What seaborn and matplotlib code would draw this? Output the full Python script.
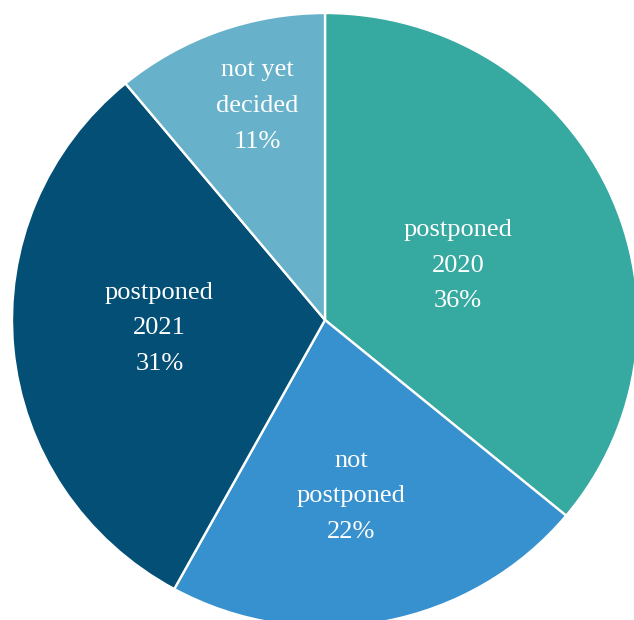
import numpy as np
import matplotlib
matplotlib.use("Agg")
import matplotlib.pyplot as plt
import seaborn as sns

sns.set_theme(style="white")
plt.rcParams['font.family'] = ['Liberation Serif', 'DejaVu Serif']

# Data
categories = ['postponed\n2020', 'not\npostponed', 'postponed\n2021', 'not yet\ndecided']
shares = [36, 22, 31, 11]
colors = ['#36a9a1', '#3891cf', '#034f75', '#67b1ca']
label_dist = [0.46, 0.58, 0.53, 0.73]

fig = plt.figure(figsize=(6.34, 6.20), dpi=100)
ax = fig.add_axes([0, 0, 1, 1])

wedges, _ = ax.pie(shares, colors=colors, startangle=90, counterclock=False,
                   radius=1.0, wedgeprops=dict(edgecolor='white', linewidth=1.7))

for w, cat, s, d in zip(wedges, categories, shares, label_dist):
    # labels sit a touch clockwise of the wedge middle
    mid = np.deg2rad((w.theta1 + w.theta2) / 2 - 2.5)
    ax.text(d * np.cos(mid), d * np.sin(mid), f'{cat}\n{s}%',
            ha='center', va='center', color='white', fontsize=19,
            linespacing=1.8)

# center sits at (325, 320) px; slightly squashed vertically in the original
ax.set_xlim(-325 / 313, (634 - 325) / 313)
ax.set_ylim(-(620 - 320) / 307, 320 / 307)
ax.set_aspect('auto')
ax.axis('off')

fig.savefig('out.png', dpi=100, facecolor='white')
